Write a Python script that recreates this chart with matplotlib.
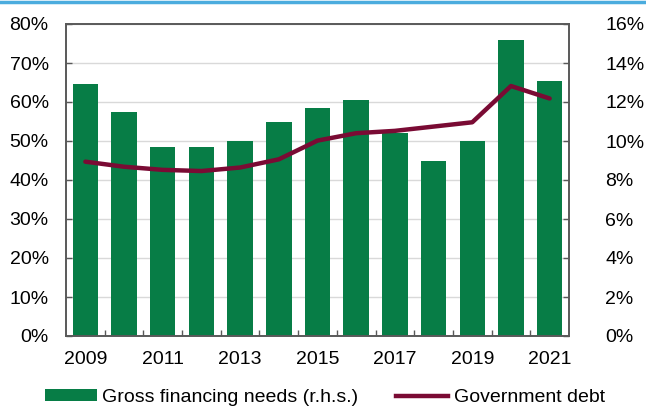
import matplotlib.pyplot as plt
from matplotlib.patches import Patch
from matplotlib.lines import Line2D
from matplotlib.ticker import FuncFormatter, FixedLocator

plt.rcParams['font.family'] = ['Liberation Sans', 'DejaVu Sans']
plt.rcParams['font.size'] = 14

anos = [2009, 2010, 2011, 2012, 2013, 2014, 2015, 2016, 2017, 2018, 2019, 2020, 2021]
necessidades = [12.9, 11.5, 9.7, 9.7, 10.0, 11.0, 11.7, 12.1, 10.4, 9.0, 10.0, 15.2, 13.1]
divida = [44.7, 43.4, 42.6, 42.3, 43.2, 45.3, 50.1, 52.0, 52.6, 53.7, 54.8, 64.1, 60.9]
rotulos = ['2009', '', '2011', '', '2013', '', '2015', '', '2017', '', '2019', '', '2021']

cor_barra = '#077d46'
cor_linha = '#7a0b34'
cor_eixo = '#595959'

fig = plt.figure(figsize=(6.46, 4.08), dpi=100)
ax = fig.add_axes([66 / 646, 1 - 336 / 408, 503 / 646, 312 / 408])
ax2 = ax.twinx()

x = list(range(len(anos)))
ax2.bar(x, necessidades, width=0.66, color=cor_barra, zorder=2)
ax.plot(x, divida, color=cor_linha, linewidth=3.2, solid_capstyle='round', zorder=3)

ax.set_zorder(ax2.get_zorder() + 1)
ax.patch.set_visible(False)

ax.set_xlim(-0.5, len(anos) - 0.5)
ax.set_ylim(0, 80)
ax2.set_ylim(0, 16)
ax.set_yticks(range(0, 81, 10))
ax2.set_yticks(range(0, 17, 2))
ax.yaxis.set_major_formatter(FuncFormatter(lambda v, p: f'{v:.0f}%'))
ax2.yaxis.set_major_formatter(FuncFormatter(lambda v, p: f'{v:.0f}%'))

ax2.grid(axis='y', color='#d9d9d9', linewidth=1, zorder=0)
ax2.set_axisbelow(True)

ax.set_xticks(x)
ax.set_xticklabels(rotulos)
ax.tick_params(axis='x', which='major', length=0, pad=11)
ax.xaxis.set_minor_locator(FixedLocator([i + 0.5 for i in range(len(anos) - 1)]))
ax.tick_params(axis='x', which='minor', direction='in', length=4, color=cor_eixo, width=1)
ax.tick_params(axis='y', direction='in', length=4, color=cor_eixo, width=1, pad=12.5)
ax2.tick_params(axis='y', direction='in', length=4, color=cor_eixo, width=1, pad=26)

for a in (ax, ax2):
    for s in a.spines.values():
        s.set_color(cor_eixo)
        s.set_linewidth(1.2)

# linha azul no topo
fig.add_artist(Line2D([0, 1], [1 - 1.5 / 408, 1 - 1.5 / 408], color='#4bacde', linewidth=2.5,
                      transform=fig.transFigure))

handles = [Patch(facecolor=cor_barra, label='Gross financing needs (r.h.s.)'),
           Line2D([0], [0], color=cor_linha, linewidth=3.2, label='Government debt')]
fig.legend(handles=handles, loc='center left', bbox_to_anchor=(45 / 646, 1 - 397.5 / 408), ncol=2,
           frameon=False, handlelength=2.65, handleheight=0.54, columnspacing=1.95,
           handletextpad=0.3, borderpad=0, borderaxespad=0, fontsize=14)

fig.savefig('out.png', dpi=100)
